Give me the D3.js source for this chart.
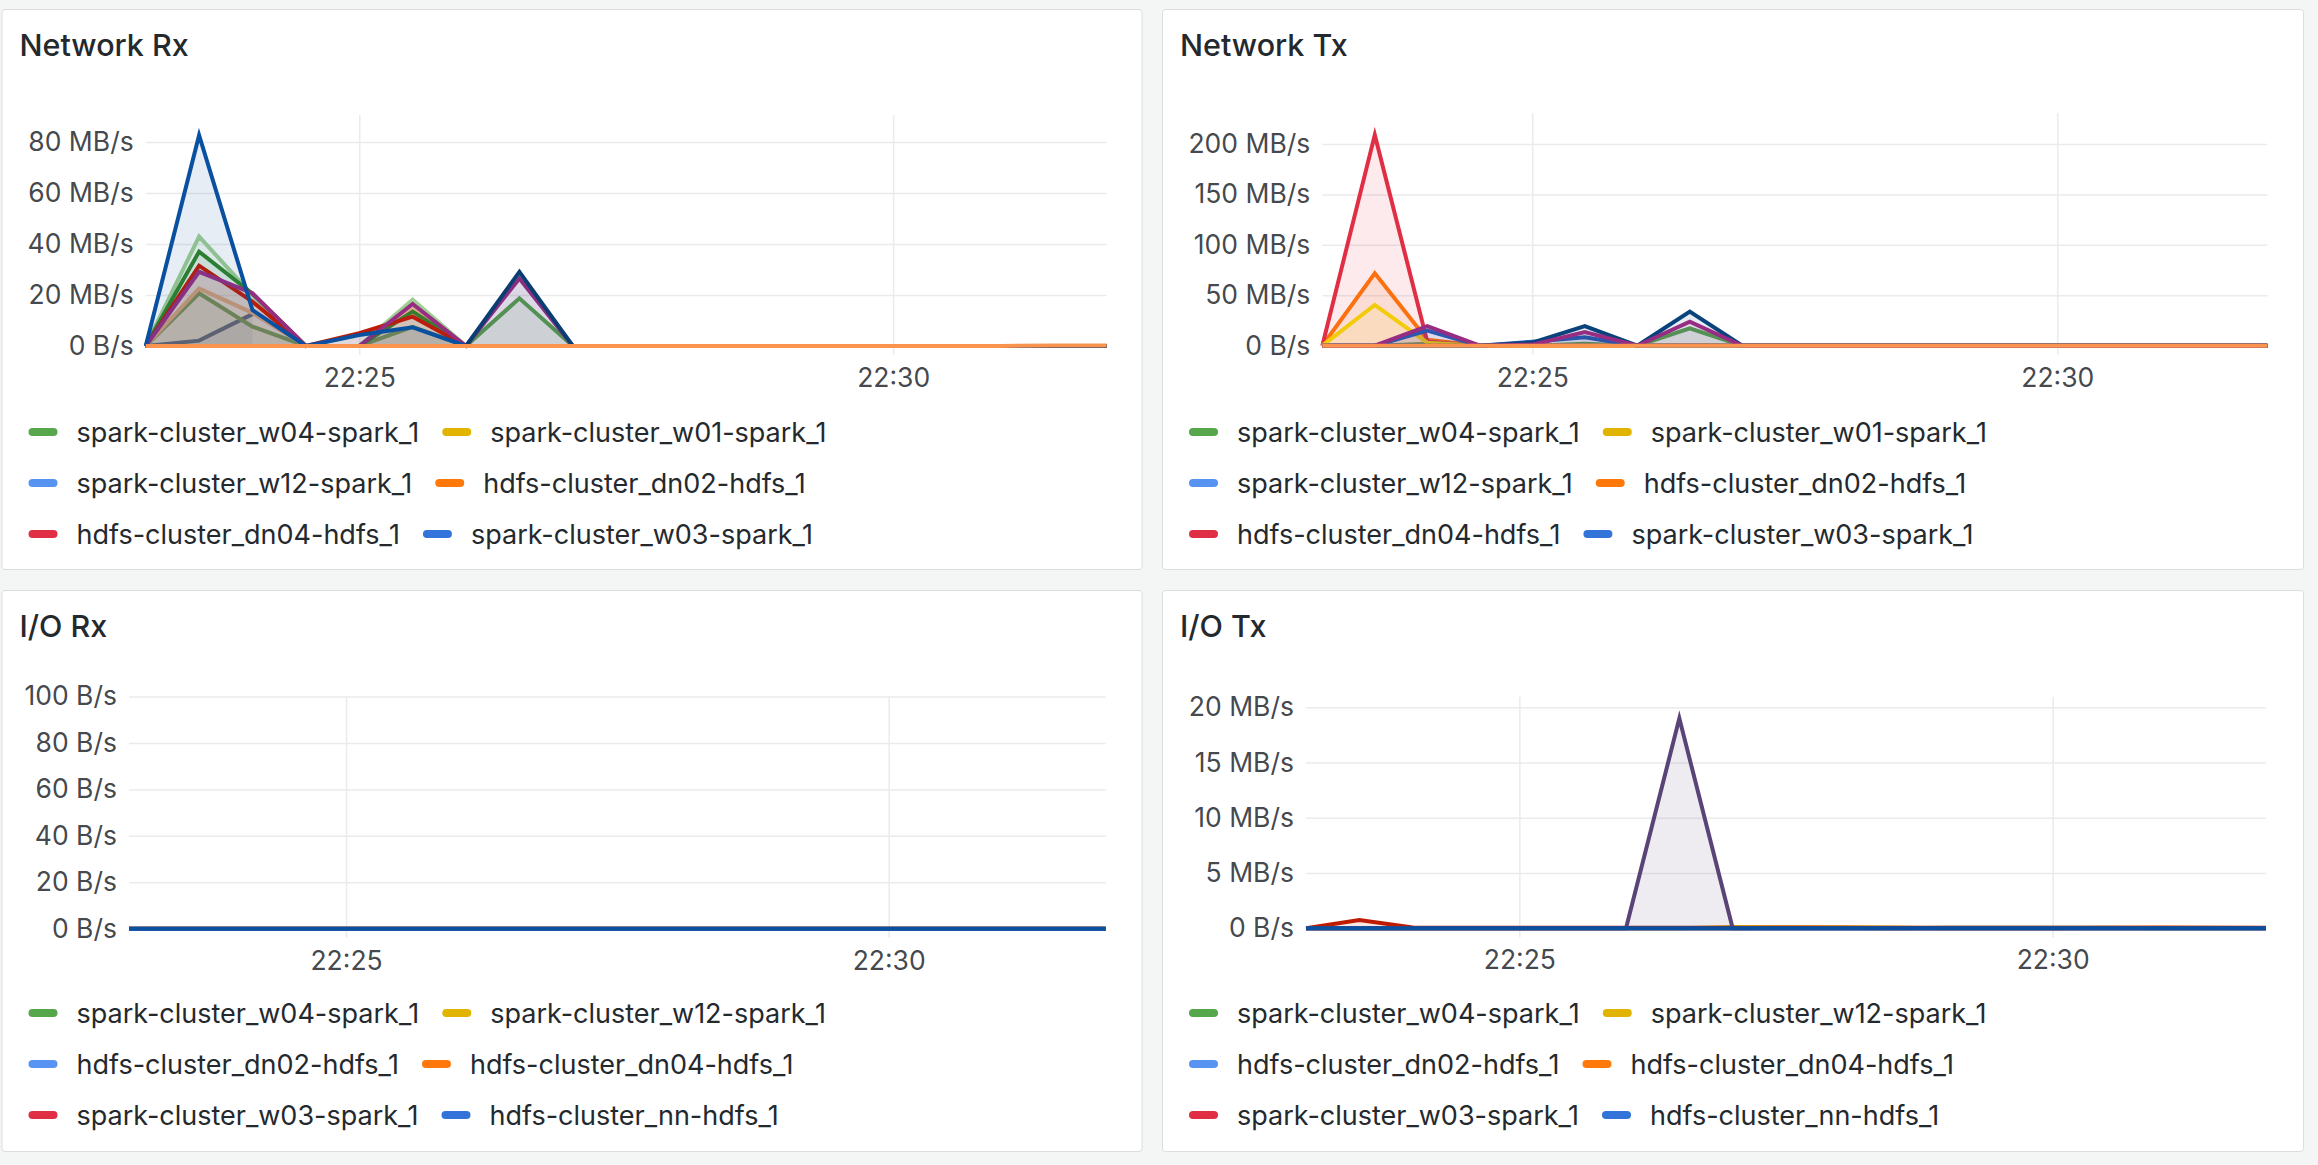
<!DOCTYPE html>
<html>
<head>
<meta charset="utf-8">
<script src="https://cdn.jsdelivr.net/npm/d3@7"></script>
<style>
  html, body { margin: 0; padding: 0; background: #F4F5F5; }
  svg { display: block; font-family: Inter, "Noto Sans", sans-serif; }
</style>
</head>
<body>
<svg id="chart" width="2318" height="1165"></svg>
<script>
// ---------------- DATA ----------------
const timeLabels = ["22:23:00","22:23:30","22:24:00","22:24:30","22:25:00","22:25:30","22:26:00","22:26:30","22:27:00","22:27:30","22:28:00","22:28:30","22:29:00","22:29:30","22:30:00","22:30:30","22:31:00","22:31:30","22:32:00"];
const xDomainLabels = ["22:23:00", "22:32:00"];
const xTickTimes = ["22:25:00", "22:30:00"];
const xTickLabels = ["22:25", "22:30"];

// Network Rx (MB/s)
const netRxTitle = "Network Rx";
const netRxYMax = 90.6;
const netRxYTicks = [0, 20, 40, 60, 80];
const netRxYTickLabels = ["0 B/s", "20 MB/s", "40 MB/s", "60 MB/s", "80 MB/s"];
const netRxNames = ["spark-cluster_w04-spark_1","spark-cluster_w01-spark_1","spark-cluster_w12-spark_1","hdfs-cluster_dn02-hdfs_1","hdfs-cluster_dn04-hdfs_1","spark-cluster_w03-spark_1",
  "spark-cluster_w05-spark_1","spark-cluster_w06-spark_1","spark-cluster_w07-spark_1","spark-cluster_w08-spark_1","spark-cluster_w09-spark_1","spark-cluster_w10-spark_1","spark-cluster_w11-spark_1","spark-cluster_w02-spark_1","hdfs-cluster_dn01-hdfs_1","hdfs-cluster_dn03-hdfs_1"];
const netRxColors = ["#56A64B","#E0B400","#5794F2","#FF780A","#E02F44","#3274D9",
  "#41598B","#629E51","#F4B98E","#9FCF92","#2F8526","#BF1B00","#962D82","#0A50A1","#0A3D72","#F9934E"];
const netRxValues = [
  [0, 0, 0, 0, 0, 0, 0, 18.7, 0, 0, 0, 0, 0, 0, 0, 0, 0, 0, 0],
  [0, 0, 0, 0, 0, 0, 0, 0, 0, 0, 0, 0, 0, 0, 0, 0, 0, 0, 0],
  [0, 0, 0, 0, 0, 0, 0, 0, 0, 0, 0, 0, 0, 0, 0, 0, 0, 0, 0],
  [0, 0, 0, 0, 0, 0, 0, 0, 0, 0, 0, 0, 0, 0, 0, 0, 0, 0, 0],
  [0, 0, 0, 0, 0, 0, 0, 0, 0, 0, 0, 0, 0, 0, 0, 0, 0, 0, 0],
  [0, 0, 0, 0, 0, 0, 0, 0, 0, 0, 0, 0, 0, 0, 0, 0, 0, 0, 0],
  [0, 2.1, 12.5, null, null, null, null, null, null, null, null, null, null, null, null, null, null, null, null],
  [0, 20.7, 7.6, 0, 0, 7.5, 0, 0, 0, 0, 0, 0, 0, 0, 0, 0, 0, 0, 0],
  [0, 22.6, 13, 0, 0, 14.5, 0, 0, 0, 0, 0, 0, 0, 0, 0, 0, 0, 0, 0],
  [0, 42.9, 20, 0, 0, 18.2, 0, 0, 0, 0, 0, 0, 0, 0, 0, 0, 0, 0, 0],
  [0, 37, 20.5, 0, 0, 13.5, 0, 0, 0, 0, 0, 0, 0, 0, 0, 0, 0, 0, 0],
  [0, 31.5, 17.4, 0, 5, 11.5, 0, 0, 0, 0, 0, 0, 0, 0, 0, 0, 0, 0, 0],
  [0, 29.1, 20.7, 0, 0, 16.5, 0, 26.5, 0, 0, 0, 0, 0, 0, 0, 0, 0, 0, 0],
  [0, 82.7, 14.1, 0, 4.3, 7.3, 0, 0, 0, 0, 0, 0, 0, 0, 0, 0, 0, 0, 0],
  [0, 0, 0, 0, 0, 0, 0, 29.1, 0, 0, 0, 0, 0, 0, 0, 0, 0, 0, 0],
  [0, 0, 0, 0, 0, 0, 0, 0, 0, 0, 0, 0, 0, 0, 0, 0, 0, 0.2, 0.2]
];

// Network Tx (MB/s)
const netTxTitle = "Network Tx";
const netTxYMax = 230.7;
const netTxYTicks = [0, 50, 100, 150, 200];
const netTxYTickLabels = ["0 B/s", "50 MB/s", "100 MB/s", "150 MB/s", "200 MB/s"];
const netTxNames = ["spark-cluster_w04-spark_1","spark-cluster_w01-spark_1","spark-cluster_w12-spark_1","hdfs-cluster_dn02-hdfs_1","hdfs-cluster_dn04-hdfs_1","spark-cluster_w03-spark_1",
  "spark-cluster_w05-spark_1","spark-cluster_w06-spark_1","spark-cluster_w07-spark_1","spark-cluster_w08-spark_1","hdfs-cluster_dn01-hdfs_1"];
const netTxColors = ["#56A64B","#E0B400","#5794F2","#FF780A","#E02F44","#3274D9",
  "#F2CC0C","#1F5CB5","#0A437C","#962D82","#F9934E"];
const netTxValues = [
  [0, 0, 2, 0, 0, 2, 0, 17.2, 0, 0, 0, 0, 0, 0, 0, 0, 0, 0, 0],
  [0, 0, 0, 0, 0, 0, 0, 0, 0, 0, 0, 0, 0, 0, 0, 0, 0, 0, 0],
  [0, 0, 0, 0, 0, 0, 0, 0, 0, 0, 0, 0, 0, 0, 0, 0, 0, 0, 0],
  [0, 71.8, 6, 0, 0, 0, 0, 0, 0, 0, 0, 0, 0, 0, 0, 0, 0, 0, 0],
  [0, 209, 4, 0, 0, 0, 0, 0, 0, 0, 0, 0, 0, 0, 0, 0, 0, 0, 0],
  [0, 0, 0, 0, 0, 0, 0, 0, 0, 0, 0, 0, 0, 0, 0, 0, 0, 0, 0],
  [0, 40.4, 3, 0, 0, 0, 0, 0, 0, 0, 0, 0, 0, 0, 0, 0, 0, 0, 0],
  [0, 0, 15, 0, 4, 8.3, 0, 0, 0, 0, 0, 0, 0, 0, 0, 0, 0, 0, 0],
  [0, 0, 0, 0, 3, 19.5, 0, 33.8, 0, 0, 0, 0, 0, 0, 0, 0, 0, 0, 0],
  [0, 0, 19.5, 0, 1, 13.6, 0, 23.8, 0, 0, 0, 0, 0, 0, 0, 0, 0, 0, 0],
  [0, 0, 0, 0, 0, 0, 0, 0, 0, 0, 0, 0, 0, 0, 0, 0, 0, 0, 0]
];

// I/O Rx (B/s)
const ioRxTitle = "I/O Rx";
const ioRxYMax = 100;
const ioRxYTicks = [0, 20, 40, 60, 80, 100];
const ioRxYTickLabels = ["0 B/s", "20 B/s", "40 B/s", "60 B/s", "80 B/s", "100 B/s"];
const ioRxNames = ["spark-cluster_w04-spark_1","spark-cluster_w12-spark_1","hdfs-cluster_dn02-hdfs_1","hdfs-cluster_dn04-hdfs_1","spark-cluster_w03-spark_1","hdfs-cluster_nn-hdfs_1","spark-cluster_w01-spark_1"];
const ioRxColors = ["#56A64B","#E0B400","#5794F2","#FF780A","#E02F44","#3274D9","#0A50A1"];
const ioRxValues = [
  [0, 0, 0, 0, 0, 0, 0, 0, 0, 0, 0, 0, 0, 0, 0, 0, 0, 0, 0],
  [0, 0, 0, 0, 0, 0, 0, 0, 0, 0, 0, 0, 0, 0, 0, 0, 0, 0, 0],
  [0, 0, 0, 0, 0, 0, 0, 0, 0, 0, 0, 0, 0, 0, 0, 0, 0, 0, 0],
  [0, 0, 0, 0, 0, 0, 0, 0, 0, 0, 0, 0, 0, 0, 0, 0, 0, 0, 0],
  [0, 0, 0, 0, 0, 0, 0, 0, 0, 0, 0, 0, 0, 0, 0, 0, 0, 0, 0],
  [0, 0, 0, 0, 0, 0, 0, 0, 0, 0, 0, 0, 0, 0, 0, 0, 0, 0, 0],
  [0, 0, 0, 0, 0, 0, 0, 0, 0, 0, 0, 0, 0, 0, 0, 0, 0, 0, 0]
];

// I/O Tx (MB/s)
const ioTxTitle = "I/O Tx";
const ioTxYMax = 20.96;
const ioTxYTicks = [0, 5, 10, 15, 20];
const ioTxYTickLabels = ["0 B/s", "5 MB/s", "10 MB/s", "15 MB/s", "20 MB/s"];
const ioTxNames = ["spark-cluster_w04-spark_1","spark-cluster_w12-spark_1","hdfs-cluster_dn02-hdfs_1","hdfs-cluster_dn04-hdfs_1","spark-cluster_w03-spark_1","hdfs-cluster_nn-hdfs_1","spark-cluster_w05-spark_1","spark-cluster_w01-spark_1","spark-cluster_w02-spark_1"];
const ioTxColors = ["#56A64B","#E0B400","#5794F2","#FF780A","#E02F44","#3274D9","#BF1B00","#584477","#0A50A1"];
const ioTxValues = [
  [0, 0, 0, 0, 0, 0, 0, 0, 0, 0, 0, 0, 0.05, 0.05, 0.05, 0.04, 0, 0, 0],
  [0, 0, 0, 0, 0, 0, 0, 0, 0.12, 0.1, 0.1, 0.08, 0, 0, 0, 0, 0, 0, 0],
  [0, 0, 0, 0, 0, 0, 0, 0, 0, 0, 0, 0, 0, 0, 0, 0, 0, 0, 0],
  [0, 0, 0, 0, 0, 0, 0, 0, 0, 0.08, 0.05, 0, 0, 0, 0, 0.06, 0.08, 0.05, 0.03],
  [0, 0, 0, 0, 0, 0, 0, 0, 0, 0, 0, 0, 0, 0, 0, 0, 0, 0, 0],
  [0, 0, 0, 0, 0, 0, 0, 0, 0, 0, 0, 0, 0, 0, 0, 0, 0, 0, 0],
  [0, 0.75, 0.08, 0.05, 0.05, 0.05, 0.05, 0.05, 0.05, 0.04, 0.04, 0.04, 0.04, 0.04, 0.04, 0.04, 0.04, 0.04, 0.04],
  [0, 0, 0, 0, 0, 0, 0, 19.0, 0, 0, 0, 0, 0, 0, 0, 0, 0, 0, 0],
  [0, 0, 0, 0, 0, 0, 0, 0, 0, 0, 0, 0, 0, 0, 0, 0, 0, 0, 0]
];

// ---------------- LAYOUT ----------------
const panelLayouts = [
  { x: 1.5,  y: 9,   w: 1140, h: 560, plot: { l: 145.7, r: 1106.7, t: 115,   b: 346 } },
  { x: 1162, y: 9,   w: 1141, h: 560, plot: { l: 1322.3, r: 2267.3, t: 113,  b: 345.7 } },
  { x: 1.5,  y: 590, w: 1140, h: 561, plot: { l: 129,   r: 1105.7, t: 696.5, b: 928.7 } },
  { x: 1162, y: 590, w: 1141, h: 561, plot: { l: 1306,  r: 2266,   t: 696.7, b: 928.3 } }
];
const FONT_TITLE = 30.5;
const FONT_TICK = 26.5;
const FONT_LEGEND = 27;

const panelData = [
  { title: netRxTitle, yMax: netRxYMax, yTicks: netRxYTicks, yTickLabels: netRxYTickLabels, names: netRxNames, colors: netRxColors, values: netRxValues },
  { title: netTxTitle, yMax: netTxYMax, yTicks: netTxYTicks, yTickLabels: netTxYTickLabels, names: netTxNames, colors: netTxColors, values: netTxValues },
  { title: ioRxTitle,  yMax: ioRxYMax,  yTicks: ioRxYTicks,  yTickLabels: ioRxYTickLabels,  names: ioRxNames,  colors: ioRxColors,  values: ioRxValues },
  { title: ioTxTitle,  yMax: ioTxYMax,  yTicks: ioTxYTicks,  yTickLabels: ioTxYTickLabels,  names: ioTxNames,  colors: ioTxColors,  values: ioTxValues }
];

const parseT = d3.timeParse("%H:%M:%S");
const times = timeLabels.map(parseT);
const xDomain = xDomainLabels.map(parseT);
const xTicks = xTickTimes.map(parseT);

const svg = d3.select("#chart");
const TEXT = "#24292E";
const TICK = "rgba(36,41,46,0.87)";
const GRID = "#EAEBEC";

panelData.forEach((pd, pi) => {
  const L = panelLayouts[pi];
  const P = L.plot;
  const g = svg.append("g");

  g.append("rect")
    .attr("x", L.x + 0.5).attr("y", L.y + 0.5)
    .attr("width", L.w).attr("height", L.h)
    .attr("rx", 3)
    .attr("fill", "#FFFFFF")
    .attr("stroke", "#DCDDDF").attr("stroke-width", 1);

  g.append("text")
    .attr("x", L.x + 18).attr("y", L.y + 35)
    .attr("dominant-baseline", "central")
    .attr("font-size", FONT_TITLE).attr("font-weight", 500)
    .attr("fill", TEXT)
    .text(pd.title);

  const x = d3.scaleTime().domain(xDomain).range([P.l, P.r]);
  const y = d3.scaleLinear().domain([0, pd.yMax]).range([P.b, P.t]);

  // horizontal grid + y labels via axis
  const yAxis = d3.axisLeft(y).tickValues(pd.yTicks)
    .tickFormat((d, i) => pd.yTickLabels[i])
    .tickSize(-(P.r - P.l)).tickPadding(12);
  const ya = g.append("g").attr("transform", `translate(${P.l},0)`).call(yAxis);
  ya.select(".domain").remove();
  ya.selectAll(".tick line").attr("stroke", GRID).attr("stroke-width", 1.5);
  ya.selectAll(".tick text").attr("font-size", FONT_TICK).attr("fill", TICK)
    .attr("font-family", "Inter, sans-serif");

  // vertical grid + x labels
  const xAxis = d3.axisBottom(x).tickValues(xTicks)
    .tickFormat((d, i) => xTickLabels[i])
    .tickSize(-(P.b - P.t)).tickPadding(0);
  const xa = g.append("g").attr("transform", `translate(0,${P.b})`).call(xAxis);
  xa.select(".domain").remove();
  xa.selectAll(".tick line").attr("stroke", GRID).attr("stroke-width", 1.5)
    .attr("y1", 9);
  xa.selectAll(".tick text").attr("font-size", FONT_TICK).attr("fill", TICK)
    .attr("font-family", "Inter, sans-serif")
    .attr("y", 31).attr("dy", null).attr("dominant-baseline", "central");

  // series
  pd.values.forEach((vals, si) => {
    const pts = vals.map((v, i) => ({ t: times[i], v: v }));
    const col = pd.colors[si];
    const area = d3.area().defined(d => d.v != null)
      .x(d => x(d.t)).y0(y(0)).y1(d => y(d.v));
    const line = d3.line().defined(d => d.v != null)
      .x(d => x(d.t)).y(d => y(d.v));
    g.append("path").attr("d", area(pts))
      .attr("fill", col).attr("fill-opacity", 0.1);
    g.append("path").attr("d", line(pts))
      .attr("fill", "none").attr("stroke", col).attr("stroke-width", 4)
      .attr("stroke-linejoin", "miter").attr("stroke-miterlimit", 10);
  });

  // legend (first 6 series, 2 per row)
  const rowOffsets = [423, 474, 525];
  for (let r = 0; r < 3; r++) {
    let cx = L.x + 27;
    for (let c = 0; c < 2; c++) {
      const si = r * 2 + c;
      const cy = L.y + rowOffsets[r];
      g.append("rect")
        .attr("x", cx).attr("y", cy - 4)
        .attr("width", 29).attr("height", 8).attr("rx", 4)
        .attr("fill", pd.colors[si]);
      const t = g.append("text")
        .attr("x", cx + 48).attr("y", cy)
        .attr("dominant-baseline", "central")
        .attr("font-size", FONT_LEGEND).attr("fill", TEXT)
        .text(pd.names[si]);
      const w = t.node().getComputedTextLength();
      cx = cx + 48 + w + 23;
    }
  }
});
</script>
</body>
</html>
